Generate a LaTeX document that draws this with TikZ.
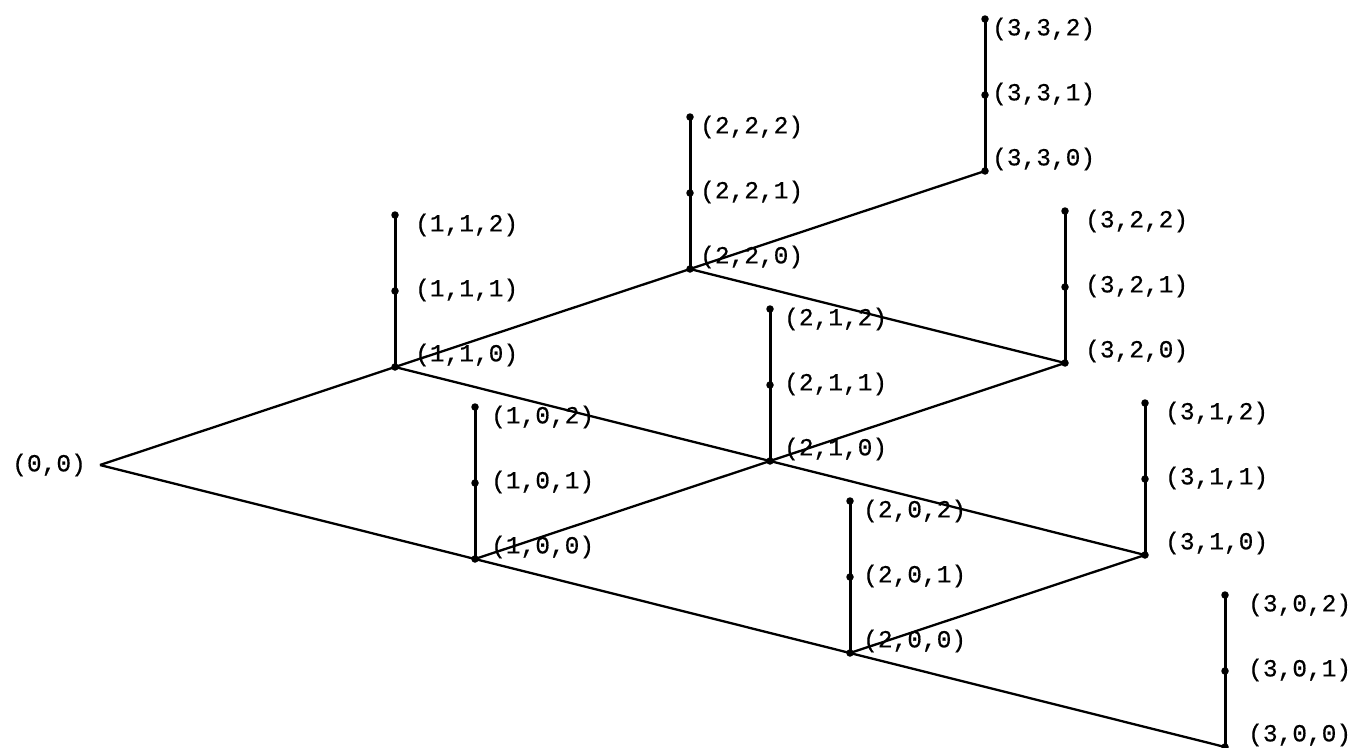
\documentclass[tikz,border=0pt]{standalone}
\usepackage{fontspec}
\newfontfamily\labfont[FakeBold=0.5]{Liberation Mono}
\begin{document}
\begin{tikzpicture}[x=1pt,y=-1pt,
  edge/.style={line width=2.3pt, black},
  stem/.style={line width=3pt, black},
  dot/.style={circle, fill=black, inner sep=0pt, minimum size=7.5pt},
  lab/.style={font=\labfont\fontsize{24.5}{24.5}\selectfont, inner sep=0pt, anchor=west}]
\useasboundingbox (0,0) rectangle (1354,747);
\coordinate (p00) at (100,465);
\node[lab, anchor=east] (l00) at (86,465) {(0,0)};
\foreach \i/\j/\dx in {1/0/16,1/1/20,2/0/13,2/1/14,2/2/10,3/0/23,3/1/20,3/2/20,3/3/7}{
  \pgfmathsetmacro{\px}{100+295*\j+375*(\i-\j)}
  \pgfmathsetmacro{\py}{465-98*\j+94*(\i-\j)}
  \coordinate (p\i\j) at (\px,\py);
  \node[dot] (v\i\j0) at (p\i\j) {};
  \node[dot] (v\i\j1) at (\px,\py-76) {};
  \node[dot] (v\i\j2) at (\px,\py-152) {};
  \draw[stem] (v\i\j0.center) -- (v\i\j2.center);
  \node[lab] (l\i\j2) at (\px+\dx,\py-142) {(\i,\j,2)};
  \node[lab] (l\i\j1) at (\px+\dx,\py-77) {(\i,\j,1)};
  \node[lab] (l\i\j0) at (\px+\dx,\py-12) {(\i,\j,0)};
}
\draw[edge] (p00) -- (p11);
\draw[edge] (p00) -- (p10);
\draw[edge] (p11) -- (p22);
\draw[edge] (p11) -- (p21);
\draw[edge] (p10) -- (p21);
\draw[edge] (p10) -- (p20);
\draw[edge] (p22) -- (p33);
\draw[edge] (p22) -- (p32);
\draw[edge] (p21) -- (p32);
\draw[edge] (p21) -- (p31);
\draw[edge] (p20) -- (p31);
\draw[edge] (p20) -- (p30);
\end{tikzpicture}
\end{document}
